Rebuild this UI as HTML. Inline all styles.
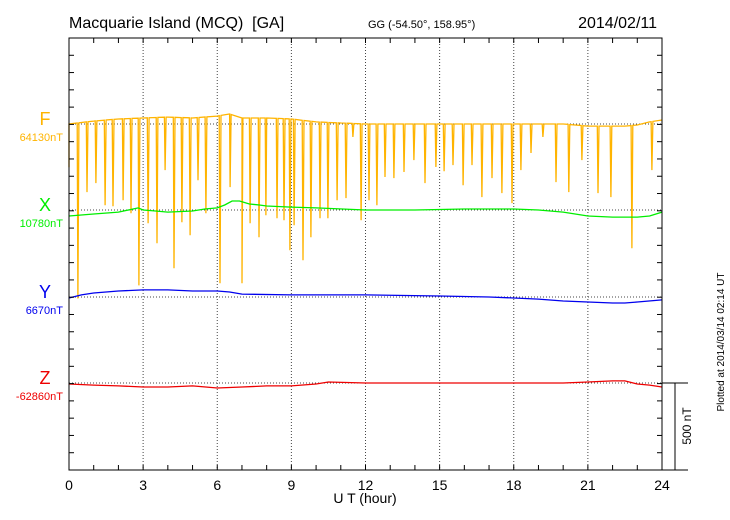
<!DOCTYPE html>
<html><head><meta charset="utf-8"><style>
body{margin:0;background:#fff}
svg{font-family:"Liberation Sans",sans-serif;display:block}
</style></head><body>
<svg id="chart" width="730" height="520" viewBox="0 0 730 520" xmlns="http://www.w3.org/2000/svg">
<text x="69" y="28" font-size="16">Macquarie Island (MCQ)&#160;&#160;[GA]</text>
<text x="368" y="28" font-size="11">GG (-54.50°, 158.95°)</text>
<text x="657" y="28" font-size="16" text-anchor="end">2014/02/11</text>
<text x="365" y="503" font-size="14" text-anchor="middle">U T (hour)</text>
<text transform="translate(724,342) rotate(-90)" font-size="10" text-anchor="middle">Plotted at 2014/03/14 02:14 UT</text>
<text transform="translate(691,426) rotate(-90)" font-size="12" text-anchor="middle">500 nT</text>
<g id="grid"></g><g id="series"></g><g id="axes"></g>
</svg>
<script>
const xTickLabels=["0","3","6","9","12","15","18","21","24"];
const compNames=["F","X","Y","Z"];
const compBase=["64130nT","10780nT","6670nT","-62860nT"];
const compColors=["#ffb400","#00ee00","#0000ee","#ee0000"];
const fTimes=[0,1,2,3,4,5,6,6.5,7,8,9,10,11,12,15,18,20,21,22,22.5,23,23.5,24];
const fVals=[0,17,29,35,40,35,46,58,35,35,29,12,6,0,0,0,0,-12,-12,-12,-6,12,23];
const spikeHours=[0.36,0.73,1.09,1.46,1.78,2.19,2.51,2.83,3.20,3.56,3.89,4.25,4.57,4.90,5.22,5.54,6.11,6.52,7.00,7.33,7.69,7.97,8.42,8.70,8.94,9.11,9.47,9.79,10.16,10.48,10.85,11.21,11.49,11.82,12.14,12.46,12.79,13.15,13.56,13.96,14.41,14.85,15.18,15.54,15.95,16.31,16.71,17.12,17.52,17.93,18.29,18.70,19.18,19.71,20.23,20.76,21.41,21.93,22.78,23.59];
const spikeMins=[-1010,-394,-342,-470,-476,-441,-516,-934,-574,-690,-267,-835,-568,-644,-325,-516,-922,-365,-922,-574,-655,-528,-545,-557,-731,-586,-789,-655,-545,-545,-441,-429,-75,-557,-441,-470,-307,-313,-278,-209,-342,-249,-273,-238,-354,-238,-423,-313,-400,-458,-267,-168,-75,-336,-394,-209,-400,-423,-719,-267];
const xTimes=[0,1,2,2.8,3,3.5,4,5,5.5,6,6.3,6.6,6.9,7.3,7.7,8,9,10,12,14,16,18,19,20,21,22,22.5,23,23.5,24];
const xVals=[-35,-23,-12,12,0,-6,-12,-6,6,12,29,52,52,35,29,23,17,12,0,0,6,6,0,-12,-35,-41,-41,-41,-35,-12];
const yTimes=[0,0.5,1,2,3,4,5,6,6.5,7,9,12,15,17,18,19,20,21,22,22.5,23,24];
const yVals=[-6,12,23,35,41,41,35,35,29,17,12,12,6,0,-6,-12,-23,-29,-35,-35,-29,-17];
const zTimes=[0,1,2,3,4,5,6,7,8,9,10,10.5,12,15,18,20,21,22,22.5,23,23.5,24];
const zVals=[-6,-12,-17,-23,-23,-17,-29,-23,-17,-17,-6,6,0,0,0,0,6,12,12,-6,-12,-23];
const NS="http://www.w3.org/2000/svg";
const L=69,R=662,T=38,B=470,pxPerNT=86.4/500;
const baseY=[124,210,297,383];
const xs=h=>L+(R-L)*h/24;
const ys=(i,v)=>baseY[i]-v*pxPerNT;
function mk(tag,attrs,parent){const e=document.createElementNS(NS,tag);for(const k in attrs)e.setAttribute(k,attrs[k]);parent.appendChild(e);return e;}
const grid=document.getElementById('grid'),ser=document.getElementById('series'),ax=document.getElementById('axes');
for(let k=1;k<xTickLabels.length-1;k++){const g=mk('line',{x1:xs(k*3),x2:xs(k*3),y1:T,y2:B,stroke:'#444','stroke-width':1,'stroke-dasharray':'1,2'},grid);

}
baseY.forEach((y,i)=>{const g=mk('line',{x1:L,x2:R,y1:y,y2:y,stroke:'#444','stroke-width':1,'stroke-dasharray':'1,2'},grid);

});
function pts(i,t,v){return t.map((h,j)=>xs(h).toFixed(1)+','+ys(i,v[j]).toFixed(1));}
function interp(t,v,h){for(let j=0;j<t.length-1;j++){if(h<=t[j+1]){const f=(h-t[j])/(t[j+1]-t[j]);return v[j]+f*(v[j+1]-v[j]);}}return v[v.length-1];}
let tt=[];
fTimes.forEach(h=>tt.push(h));spikeHours.forEach(h=>{tt.push(h-0.03);tt.push(h+0.04);});
const allPts=[];
tt.forEach(h=>allPts.push([h,interp(fTimes,fVals,h)]));
spikeHours.forEach((h,j)=>allPts.push([h,spikeMins[j]]));
allPts.sort((a,b)=>a[0]-b[0]);
allPts.unshift([0,-250]);
const fLine=mk('polyline',{points:allPts.map(p=>xs(Math.max(0,Math.min(24,p[0]))).toFixed(1)+','+ys(0,p[1]).toFixed(1)).join(' '),fill:'none',stroke:compColors[0],'stroke-width':1.3},ser);


[[xTimes,xVals],[yTimes,yVals],[zTimes,zVals]].forEach((d,k)=>{const i=k+1;const p=mk('polyline',{points:pts(i,d[0],d[1]).join(' '),fill:'none',stroke:compColors[i],'stroke-width':1.3},ser);

});
const frame=mk('rect',{x:L,y:T,width:R-L,height:B-T,fill:'none',stroke:'#000','stroke-width':1},ax);


for(let h=0;h<=24;h++){mk('line',{x1:xs(h),x2:xs(h),y1:B,y2:B-5,stroke:'#000'},ax);mk('line',{x1:xs(h),x2:xs(h),y1:T,y2:T+5,stroke:'#000'},ax);}
for(let k=0;k<=25;k++){const y=T+k*(B-T)/25;mk('line',{x1:L,x2:L+5,y1:y,y2:y,stroke:'#000'},ax);mk('line',{x1:R,x2:R-5,y1:y,y2:y,stroke:'#000'},ax);}
xTickLabels.forEach((s,k)=>{const t=mk('text',{x:xs(k*3),y:490,'font-size':14,'text-anchor':'middle'},ax);t.textContent=s;

});
compNames.forEach((n,i)=>{const a=mk('text',{x:45,y:baseY[i]+1,'font-size':18,fill:compColors[i],'text-anchor':'middle'},ax);a.textContent=n;


const b=mk('text',{x:63,y:baseY[i]+17,'font-size':11,fill:compColors[i],'text-anchor':'end'},ax);b.textContent=compBase[i];

});
const sb=mk('g',{},ax);


mk('line',{x1:R,x2:688,y1:383,y2:383,stroke:'#000'},sb);
mk('line',{x1:R,x2:688,y1:B,y2:B,stroke:'#000'},sb);
mk('line',{x1:675,x2:675,y1:383,y2:B,stroke:'#000'},sb);
</script>
</body></html>
